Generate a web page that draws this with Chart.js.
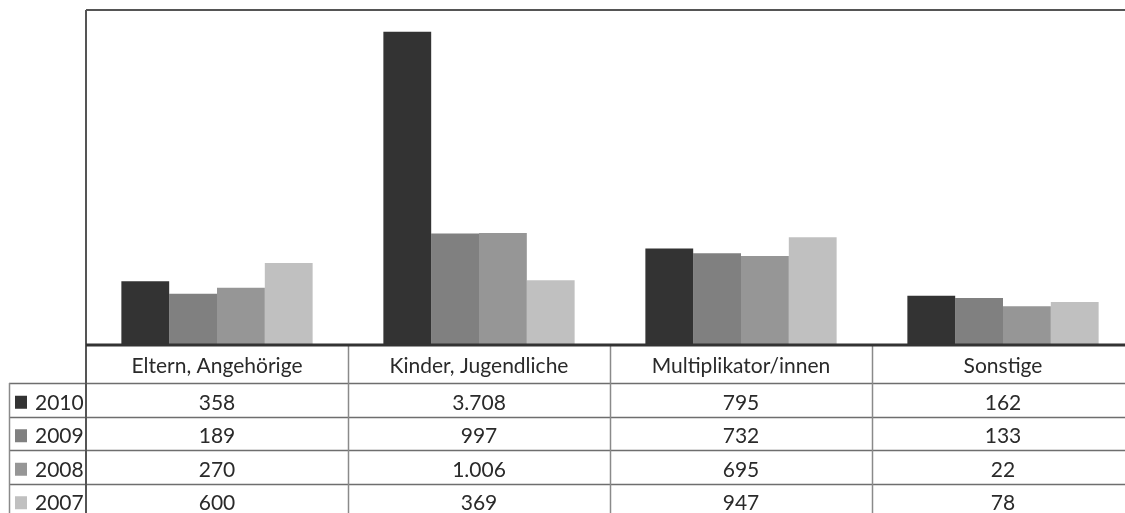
<!DOCTYPE html>
<html>
<head>
<meta charset="utf-8">
<script src="https://cdn.jsdelivr.net/npm/chart.js@4.4.1/dist/chart.umd.min.js"></script>
<style>
  html, body { margin: 0; padding: 0; background: #fff; overflow: hidden; }
  #wrap { width: 1134px; height: 513px; }
</style>
</head>
<body>
<div id="wrap"><canvas id="chart" width="1134" height="513"></canvas></div>
<script>
// Data
const categories = ['Eltern, Angehörige', 'Kinder, Jugendliche', 'Multiplikator/innen', 'Sonstige'];
const years = ['2010', '2009', '2008', '2007'];
const values2010 = [358, 3708, 795, 162];
const values2009 = [189, 997, 732, 133];
const values2008 = [270, 1006, 695, 22];
const values2007 = [600, 369, 947, 78];
const colors = ['#333333', '#808080', '#969696', '#c0c0c0'];

const series = [values2010, values2009, values2008, values2007];
const FONT = '21px Lato, "Open Sans", sans-serif';

// german thousands separator
function fmt(v) {
    return String(v).replace(/\B(?=(\d{3})+(?!\d))/g, '.');
}

// Draws the frame and the data table under the plot
const dataTable = {
    id: 'dataTable',
    afterDraw(chart) {
        const ctx = chart.ctx;
        const area = chart.chartArea;
        const x = chart.scales.x;
        const W = chart.width;
        const H = chart.height;
        const headerBottom = area.bottom + 38;
        const rowH = 33.5;
        const legendLeft = 9;

        ctx.save();

        // row lines
        ctx.strokeStyle = '#6e6e6e';
        ctx.lineWidth = 1.5;
        for (let r = 0; r < years.length; r++) {
            const y = Math.round(headerBottom + r * rowH) + 0.5;
            ctx.beginPath();
            ctx.moveTo(legendLeft, y);
            ctx.lineTo(W, y);
            ctx.stroke();
        }

        // column separators
        ctx.strokeStyle = '#8a8a8a';
        ctx.lineWidth = 1.5;
        for (let i = 0; i < categories.length - 1; i++) {
            const sx = Math.round((x.getPixelForValue(i) + x.getPixelForValue(i + 1)) / 2) + 0.5;
            ctx.beginPath();
            ctx.moveTo(sx, area.bottom);
            ctx.lineTo(sx, H);
            ctx.stroke();
        }

        // legend column left edge
        ctx.beginPath();
        ctx.moveTo(legendLeft + 0.5, headerBottom);
        ctx.lineTo(legendLeft + 0.5, H);
        ctx.stroke();

        // plot frame: top and left
        ctx.strokeStyle = '#555555';
        ctx.lineWidth = 2;
        ctx.beginPath();
        ctx.moveTo(area.left, area.top);
        ctx.lineTo(W, area.top);
        ctx.stroke();
        ctx.beginPath();
        ctx.moveTo(area.left, area.top);
        ctx.lineTo(area.left, H);
        ctx.stroke();

        // axis line
        ctx.strokeStyle = '#333333';
        ctx.lineWidth = 3;
        ctx.beginPath();
        ctx.moveTo(area.left, area.bottom);
        ctx.lineTo(W, area.bottom);
        ctx.stroke();

        // texts
        ctx.font = FONT;
        ctx.fillStyle = '#2a2a2a';
        ctx.textAlign = 'center';
        ctx.textBaseline = 'middle';
        categories.forEach((c, i) => {
            ctx.fillText(c, x.getPixelForValue(i), area.bottom + 21);
        });
        series.forEach((vals, r) => {
            const cy = headerBottom + r * rowH + rowH / 2 + 3;
            vals.forEach((v, i) => {
                ctx.fillText(fmt(v), x.getPixelForValue(i), cy);
            });
            // legend key + year
            ctx.fillStyle = colors[r];
            ctx.fillRect(15, cy - 7, 12, 13);
            ctx.fillStyle = '#2a2a2a';
            ctx.textAlign = 'left';
            ctx.fillText(years[r], 35, cy);
            ctx.textAlign = 'center';
        });

        ctx.restore();
    }
};

new Chart(document.getElementById('chart').getContext('2d'), {
    type: 'bar',
    data: {
        labels: categories,
        datasets: series.map((vals, r) => ({
            label: years[r],
            data: vals,
            backgroundColor: colors[r],
            borderWidth: 0,
            base: -500,
            categoryPercentage: 0.73,
            barPercentage: 1.0
        }))
    },
    options: {
        responsive: false,
        animation: false,
        layout: {
            padding: { left: 86, top: 10, right: 0, bottom: 168 }
        },
        plugins: {
            legend: { display: false },
            tooltip: { enabled: false }
        },
        scales: {
            x: {
                display: false,
                grid: { display: false }
            },
            y: {
                display: false,
                min: -500,
                max: 4000,
                grid: { display: false }
            }
        }
    },
    plugins: [dataTable]
});
</script>
</body>
</html>
